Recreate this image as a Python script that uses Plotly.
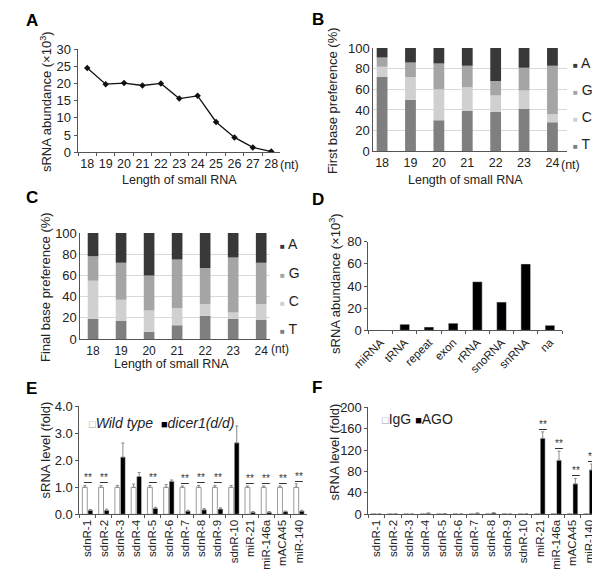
import numpy as np
import plotly.graph_objects as go

FONT = "Arial, 'Liberation Sans', Arimo, sans-serif"
TXT = "#222222"
AX = "#555555"
# The page body keeps its default 8px margin, so the figure is drawn 8px in
# from the window edge; size it so that it fills the 600x578 window exactly.
PAGE_MARGIN = 8
W, H = 600 - PAGE_MARGIN, 578 - 2 * PAGE_MARGIN


def px(x):
    """window pixel x -> paper fraction"""
    return (x - PAGE_MARGIN) / W


def py(y):
    """window pixel y -> paper fraction"""
    return 1 - (y - PAGE_MARGIN) / H


# ---------------- data ----------------
lengths_A = ["18", "19", "20", "21", "22", "23", "24", "25", "26", "27", "28"]
abundance_A = [24.5, 19.8, 20.1, 19.4, 20.0, 15.6, 16.4, 8.8, 4.3, 1.4, 0.2]

lengths_BC = ["18", "19", "20", "21", "22", "23", "24"]
bases = ["T", "C", "G", "A"]
base_colors = {"T": "#7f7f7f", "C": "#d0d0d0", "G": "#a5a5a5", "A": "#383838"}

first_T = [72, 50, 30, 39, 38, 41, 28]
first_C = [10, 22, 30, 23, 16, 18, 8]
first_G = [9, 14, 25, 21, 14, 22, 47]
first_A = [9, 14, 15, 17, 32, 19, 17]

final_T = [19, 17, 7, 13, 22, 19, 18]
final_C = [36, 20, 20, 16, 11, 6, 15]
final_G = [23, 35, 33, 46, 34, 52, 39]
final_A = [22, 28, 40, 25, 33, 23, 28]

classes_D = ["miRNA", "tRNA", "repeat", "exon", "rRNA", "snoRNA", "snRNA", "na"]
abundance_D = [0.2, 5.5, 3.0, 6.5, 44.0, 25.5, 60.0, 4.5]

targets = ["sdnR-1", "sdnR-2", "sdnR-3", "sdnR-4", "sdnR-5", "sdnR-6", "sdnR-7",
           "sdnR-8", "sdnR-9", "sdnR-10", "miR-21", "miR-146a", "mACA45", "miR-140"]
wt_level = [1.0, 1.0, 1.0, 1.0, 1.0, 1.0, 1.0, 1.0, 1.0, 1.0, 1.0, 1.0, 1.0, 1.0]
wt_err = [0.07, 0.07, 0.07, 0.12, 0.07, 0.10, 0.05, 0.07, 0.07, 0.07, 0.05, 0.05, 0.05, 0.13]
dicer_level = [0.15, 0.15, 2.12, 1.40, 0.22, 1.22, 0.12, 0.17, 0.20, 2.65, 0.08, 0.08, 0.10, 0.12]
dicer_err = [0.03, 0.04, 0.52, 0.15, 0.04, 0.05, 0.03, 0.04, 0.04, 0.62, 0.02, 0.02, 0.02, 0.03]
e_sig = ["**", "**", "", "", "**", "", "**", "**", "**", "", "**", "**", "**", "**"]

igg_level = [1.0, 1.0, 1.0, 1.0, 1.0, 1.0, 1.0, 1.0, 1.0, 1.0, 1.0, 1.0, 1.0, 1.0]
ago_level = [0.5, 0.8, 0.5, 2.0, 1.0, 0.5, 2.0, 2.5, 0.5, 0.8, 142.0, 101.0, 57.0, 83.0]
ago_err = [0.3, 0.3, 0.3, 0.5, 0.3, 0.3, 0.5, 0.6, 0.3, 0.3, 12.0, 17.0, 10.0, 11.0]
f_sig = ["", "", "", "", "", "", "", "", "", "", "**", "**", "**", "**"]

# ---------------- figure ----------------
fig = go.Figure()

# A: line
fig.add_trace(go.Scatter(
    x=lengths_A, y=abundance_A, mode="lines+markers",
    line=dict(color="#111111", width=1.3),
    marker=dict(symbol="diamond", size=5, color="#111111"),
    xaxis="x", yaxis="y", showlegend=False))


# B and C: stacked composition
def add_stack(data, xa, ya, width):
    cum = np.zeros(len(lengths_BC))
    for b in bases:
        vals = np.array(data[b], dtype=float)
        fig.add_trace(go.Bar(
            x=lengths_BC, y=vals, base=cum.copy(), width=width,
            marker=dict(color=base_colors[b], line=dict(width=0)),
            name=b, xaxis=xa, yaxis=ya, showlegend=False))
        cum = cum + vals


add_stack({"T": first_T, "C": first_C, "G": first_G, "A": first_A}, "x2", "y2", 0.38)
add_stack({"T": final_T, "C": final_C, "G": final_G, "A": final_A}, "x3", "y3", 0.38)

# D
fig.add_trace(go.Bar(x=classes_D, y=abundance_D, width=0.4,
                     marker=dict(color="#000000"), xaxis="x4", yaxis="y4",
                     showlegend=False))

# E
err_style = dict(type="data", symmetric=False, color="#8a8a8a", thickness=1, width=1.5)
fig.add_trace(go.Bar(x=targets, y=wt_level, width=0.3, offset=-0.32,
                     marker=dict(color="#ffffff", line=dict(color="#9a9a9a", width=1)),
                     error_y=dict(array=wt_err, arrayminus=[0] * len(wt_err), **err_style),
                     name="Wild type", xaxis="x5", yaxis="y5", showlegend=False))
fig.add_trace(go.Bar(x=targets, y=dicer_level, width=0.3, offset=0.02,
                     marker=dict(color="#000000"),
                     error_y=dict(array=dicer_err, arrayminus=[0] * len(dicer_err), **err_style),
                     name="dicer1(d/d)", xaxis="x5", yaxis="y5", showlegend=False))

# F
fig.add_trace(go.Bar(x=targets, y=igg_level, width=0.3, offset=-0.32,
                     marker=dict(color="#ffffff", line=dict(color="#9a9a9a", width=1)),
                     name="IgG", xaxis="x6", yaxis="y6", showlegend=False))
fig.add_trace(go.Bar(x=targets, y=ago_level, width=0.3, offset=0.02,
                     marker=dict(color="#000000"),
                     error_y=dict(array=ago_err, arrayminus=[0] * len(ago_err), **err_style),
                     name="AGO", xaxis="x6", yaxis="y6", showlegend=False))

# ---------------- axes ----------------
tickfont = dict(family=FONT, size=13, color=TXT)
xtickfont = dict(family=FONT, size=12.5, color=TXT)


def yax(dom, rng, dtick, grid=False, ticks="outside", fmt=None):
    d = dict(domain=[py(dom[1]), py(dom[0])], range=rng, dtick=dtick, tick0=0,
             showline=True, linecolor=AX, linewidth=1, ticks=ticks, ticklen=3,
             tickcolor=AX, tickfont=tickfont, showgrid=grid, gridcolor="#d9d9d9",
             gridwidth=1, zeroline=False, fixedrange=True)
    if fmt:
        d["tickformat"] = fmt
    return d


def xax(dom, rng, anchor, ticks="outside", angle=0, font=xtickfont):
    return dict(domain=[px(dom[0]), px(dom[1])], range=rng, type="category",
                anchor=anchor, showline=True, linecolor=AX, linewidth=1,
                ticks=ticks, ticklen=3, tickcolor=AX, tickson="boundaries",
                tickfont=font, tickangle=angle, showgrid=False, zeroline=False,
                fixedrange=True)


small = dict(family=FONT, size=11.5, color=TXT)
fig.update_layout(
    xaxis=xax((63, 271), [-0.53, 10.47], "y"),
    yaxis=yax((43, 149), [0, 30], 5),
    xaxis2=xax((367, 566), [-0.31, 6.51], "y2", ticks=""),
    yaxis2=yax((42, 148), [0, 100], 20, grid=True, ticks=""),
    xaxis3=xax((66, 261), [-0.45, 6.32], "y3", ticks="",
               font=dict(family=FONT, size=12, color=TXT)),
    yaxis3=yax((232, 341), [0, 100], 20, grid=True, ticks=""),
    xaxis4=xax((362, 561), [-0.5, 7.5], "y4", angle=-45, font=small),
    yaxis4=yax((241, 332), [0, 80], 20),
    xaxis5=xax((65, 299), [-0.5, 13.5], "y5", angle=-90, font=small),
    yaxis5=yax((410, 521), [0, 4], 1, fmt=".1f"),
    xaxis6=xax((362, 597), [-0.5, 13.5], "y6", angle=-90, font=small),
    yaxis6=yax((411, 521), [0, 200], 40),
)
fig.layout.yaxis.anchor = "x"
for i in range(2, 7):
    fig.layout[f"yaxis{i}"].anchor = f"x{i}"

# ---------------- annotations ----------------
ann = []


def text(x, y, s, size=13, angle=0, xanchor="center", yanchor="middle", color=TXT):
    ann.append(dict(x=px(x), y=py(y), xref="paper", yref="paper", text=s,
                    showarrow=False, textangle=angle, xanchor=xanchor,
                    yanchor=yanchor, font=dict(family=FONT, size=size, color=color)))


# panel letters
for lab, (x, y) in {"A": (8, 14), "B": (302, 13), "C": (8, 195),
                    "D": (302, 198), "E": (8, 392), "F": (302, 391)}.items():
    text(x, y, f"<b>{lab}</b>", size=17, xanchor="left", color="#000000")

# axis titles
text(30, 97, "sRNA abundance (×10<sup>3</sup>)", angle=-90)
text(325, 96, "First base preference (%)", angle=-90)
text(30, 287, "Final base preference (%)", angle=-90)
text(327, 284, "sRNA abundance (×10<sup>3</sup>)", angle=-90)
text(30, 455, "sRNA level (fold)", angle=-90)
text(327, 457, "sRNA level (fold)", angle=-90)
text(168, 178, "Length of small RNA", size=12.5)
text(462, 178, "Length of small RNA", size=12.5)
text(160, 367, "Length of small RNA", size=12.5)

# (nt)
text(281, 162, "(nt)", size=12.5)
text(570, 162, "(nt)", size=12.5)
text(271, 351, "(nt)", size=12)

# legends for B and C
for (lx, ys) in [(570, [57, 85, 113, 141]), (269, [243, 273, 302, 331])]:
    for b, yy in zip(["A", "G", "C", "T"], ys):
        text(lx, yy, f"<span style='color:{base_colors[b]};font-size:8px'>■</span> {b}",
             size=14, xanchor="left")

# legends for E and F
text(73, 427, "<span style='color:#9a9a9a;font-size:11px'>□</span><i>Wild type</i>  "
     "<span style='color:#000;font-size:11px'>■</span><i>dicer1(d/d)</i>",
     size=14, xanchor="left")
text(374, 423, "<span style='color:#9a9a9a;font-size:11px'>□</span>IgG "
     "<span style='color:#000;font-size:11px'>■</span>AGO", size=14, xanchor="left")

# significance marks
for cat, s, v, e in zip(targets, e_sig, wt_level, wt_err):
    if s:
        ann.append(dict(x=cat, y=v + e, xref="x5", yref="y5", text=f"<u>{s}</u>",
                        showarrow=False, yanchor="bottom",
                        font=dict(family=FONT, size=10, color="#333333")))
for cat, s, v, e in zip(targets, f_sig, ago_level, ago_err):
    if s:
        ann.append(dict(x=cat, y=v + e, xref="x6", yref="y6", text=f"<u>{s}</u>",
                        showarrow=False, yanchor="bottom", xshift=3,
                        font=dict(family=FONT, size=10, color="#333333")))

fig.update_layout(
    annotations=ann,
    barmode="overlay",
    width=W, height=H,
    autosize=False,
    margin=dict(l=0, r=0, t=0, b=0),
    paper_bgcolor="#ffffff", plot_bgcolor="#ffffff",
    font=dict(family=FONT, color=TXT),
    showlegend=False,
)

fig.write_html("out.html")
